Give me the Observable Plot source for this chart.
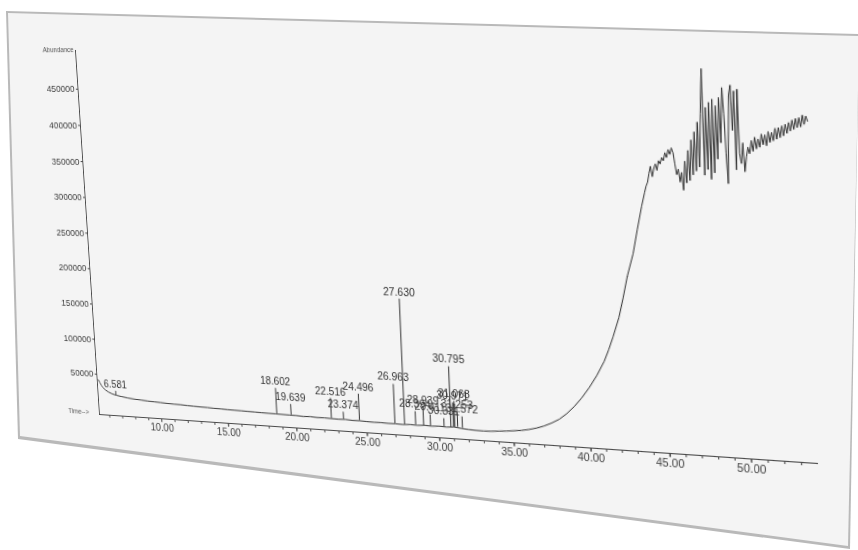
<!DOCTYPE html>
<html><head><meta charset="utf-8">
<script src="https://cdn.jsdelivr.net/npm/d3@7"></script>
<script src="https://cdn.jsdelivr.net/npm/@observablehq/plot@0.6"></script>
<style>
html,body{margin:0;padding:0;background:#ffffff;overflow:hidden;}
#wrap{position:relative;width:858px;height:550px;overflow:hidden;}
.paper{position:absolute;left:0;top:0;width:858px;height:550px;}
#edge{background:#b9b9b9;clip-path:polygon(6px 11px, 858px 34px, 858px 90px, 850px 549px, 18px 439px);}
#sheet{background:#f4f4f4;clip-path:polygon(8px 13px, 858px 36px, 858px 90px, 848px 546px, 20px 436px);}
#chart{position:absolute;left:0;top:0;}
</style></head><body><div id="wrap"><div class="paper" id="edge"></div><div class="paper" id="sheet"></div><div id="chart"></div></div>
<script>
// Axis settings
const xDomain = [5.2, 54.0];
const yDomain = [-8000, 503000];
const xTicks = [10, 15, 20, 25, 30, 35, 40, 45, 50];
const xMinorTicks = d3.range(6, 54, 1);
const yTicks = [50000, 100000, 150000, 200000, 250000, 300000, 350000, 400000, 450000];

// Total ion chromatogram trace [time (min), abundance]
const trace = [
  [5.3,42000],[5.4,38000],[5.5,34500],[5.6,31500],[5.8,28000],[6.0,25500],[6.3,23000],[6.6,21500],[7.0,20000],
  [7.5,18500],[8.0,17500],[8.5,16800],[9.0,16000],[9.5,15500],[10.0,15000],[10.5,14400],[11.0,14000],
  [11.5,13800],[12.0,13200],[12.5,12900],[13.0,12500],[13.5,12300],[14.0,11800],[14.5,11600],[15.0,11200],
  [15.5,11000],[16.0,10800],[16.5,10500],[17.0,10300],[17.5,10000],[18.0,9800],[18.5,9700],[19.0,9500],
  [19.5,9300],[20.0,9200],[20.5,8600],[21.0,9000],[21.5,8400],[22.0,8600],[22.5,8200],[23.0,8000],
  [23.5,8300],[24.0,7600],[24.5,7800],[25.0,7300],[25.5,7000],[26.0,7200],[26.5,6800],[27.0,6900],
  [27.5,6600],[28.0,7200],[28.5,6800],[29.0,7400],[29.5,6900],[30.0,7600],[30.5,7000],[31.0,7800],
  [31.5,6500],[32.0,5600],[32.5,5200],[33.0,5000],[33.5,5400],[34.0,6200],[34.5,7000],[35.0,8000],
  [35.5,9200],[36.0,11000],[36.5,13500],[37.0,17000],[37.5,21500],[38.0,27000],[38.5,35000],[39.0,45000],
  [39.5,57000],[40.0,71000],[40.5,87000],[41.0,106000],[41.3,121000],[41.6,138000],[42.0,163000],[42.3,188000],
  [42.6,216000],[43.0,245000],[43.3,276000],[43.6,305000],[43.8,322000],[43.9,330000],
  [44.0,335000],[44.1,346000],[44.2,355000],[44.3,342000],[44.4,352000],[44.5,358000],[44.6,350000],[44.7,362000],
  [44.8,358000],[44.9,366000],[45.0,362000],[45.1,372000],[45.2,366000],[45.3,376000],[45.4,370000],[45.5,378000],
  [45.6,372000],[45.7,358000],[45.8,345000],[45.9,352000],[46.0,336000],[46.1,348000],[46.2,326000],[46.3,362000],
  [46.4,335000],[46.5,375000],[46.6,338000],[46.7,388000],[46.8,345000],[46.9,398000],[47.0,350000],[47.1,410000],
  [47.2,355000],[47.3,420000],[47.4,475000],[47.5,345000],[47.6,428000],[47.7,352000],[47.8,434000],[47.9,340000],
  [48.0,438000],[48.1,348000],[48.2,430000],[48.3,365000],[48.4,440000],[48.5,385000],[48.6,452000],[48.7,420000],
  [48.8,372000],[48.9,335000],[49.0,442000],[49.1,455000],[49.2,400000],[49.3,448000],[49.4,352000],[49.5,450000],
  [49.6,372000],[49.7,360000],[49.8,385000],[49.9,350000],[50.0,368000],[50.1,380000],[50.2,372000],[50.3,388000],
  [50.4,375000],[50.5,392000],[50.6,378000],[50.7,390000],[50.8,380000],[50.9,396000],[51.0,383000],[51.1,395000],
  [51.2,382000],[51.3,399000],[51.4,386000],[51.5,398000],[51.6,388000],[51.7,403000],[51.8,390000],[51.9,404000],
  [52.0,392000],[52.1,406000],[52.2,394000],[52.3,408000],[52.4,397000],[52.5,410000],[52.6,400000],[52.7,413000],
  [52.8,402000],[52.9,415000],[53.0,404000],[53.1,416000],[53.2,405000],[53.3,419000],[53.4,408000],[53.5,418000],
  [53.6,412000]
];

// Labelled peaks
const peakTimes   = [6.581, 18.602, 19.639, 22.516, 23.374, 24.496, 26.963, 27.630, 28.394, 28.939, 29.411, 30.331, 30.795, 30.971, 31.068, 31.253, 31.572];
const peakHeights = [27000, 45000, 24000, 36000, 18000, 44000, 60000, 175000, 25000, 31000, 22000, 18000, 88000, 40000, 42000, 28000, 22000];
const peakBases   = [21500, 9700, 9300, 8200, 8300, 7800, 6900, 6600, 7200, 7000, 6900, 7000, 7200, 7400, 7600, 7800, 6600];

const peaks = peakTimes.map((t, i) => ({t, h: peakHeights[i], base: peakBases[i], label: t.toFixed(3)}));
const ink = "#303030";
const axisInk = "#4a4a4a";

const M = {left: 97, top: 50, right: 38, bottom: 136};
const W = 858, H = 550;

const chart = Plot.plot({
  width: W, height: H,
  marginLeft: M.left, marginRight: M.right, marginTop: M.top, marginBottom: M.bottom,
  style: {background: "transparent", fontFamily: "'Liberation Sans', Arial, sans-serif", color: "#404040", overflow: "visible"},
  x: {domain: xDomain, axis: null},
  y: {domain: yDomain, axis: null},
  marks: [
    Plot.axisY({ticks: yTicks, tickFormat: d => String(d), tickSize: 2, tickPadding: 2, fontSize: 9.5, label: null, stroke: axisInk}),
    Plot.axisX({ticks: xMinorTicks, tickSize: 3, tickFormat: () => "", label: null, stroke: axisInk}),
    Plot.axisX({ticks: xTicks, tickSize: 4, tickPadding: 1, tickFormat: d => d.toFixed(2), fontSize: 10.5, label: null, stroke: axisInk}),
    Plot.ruleX([xDomain[0]], {stroke: axisInk}),
    Plot.ruleY([yDomain[0]], {stroke: axisInk}),
    Plot.line(trace, {x: d => d[0], y: d => d[1], stroke: ink, strokeWidth: 0.95}),
    Plot.ruleX(peaks, {x: "t", y1: "base", y2: "h", stroke: ink, strokeWidth: 1}),
    Plot.text(peaks, {x: "t", y: "h", text: "label", dy: -7, fontSize: 10.5, fill: "#333"}),
    Plot.text(["Abundance"], {frameAnchor: "top-left", textAnchor: "end", dx: -2, dy: -3, fontSize: 7, fill: "#555"}),
    Plot.text(["Time-->"], {frameAnchor: "bottom-left", textAnchor: "end", dx: -12, dy: 0, fontSize: 7, fill: "#555"})
  ]
});
document.getElementById("chart").append(chart);

// Photographed-page look: map the plot frame onto the tilted quad seen in the reference
function quadMatrix(L, T, FW, FH, q) {
  const [[x0,y0],[x1,y1],[x2,y2],[x3,y3]] = q; // TL, TR, BR, BL
  const dx1 = x1 - x2, dx2 = x3 - x2, dx3 = x0 - x1 + x2 - x3;
  const dy1 = y1 - y2, dy2 = y3 - y2, dy3 = y0 - y1 + y2 - y3;
  const den = dx1 * dy2 - dx2 * dy1;
  const g = (dx3 * dy2 - dx2 * dy3) / den;
  const h = (dx1 * dy3 - dx3 * dy1) / den;
  const a = x1 - x0 + g * x1, b = x3 - x0 + h * x3, c = x0;
  const d = y1 - y0 + g * y1, e = y3 - y0 + h * y3, f = y0;
  const A = a / FW, B = b / FH, C = c - a * L / FW - b * T / FH;
  const D = d / FW, E = e / FH, F = f - d * L / FW - e * T / FH;
  const G = g / FW, Hh = h / FH, I = 1 - g * L / FW - h * T / FH;
  return `matrix3d(${A},${D},0,${G},${B},${E},0,${Hh},0,0,1,0,${C},${F},0,${I})`;
}
const FW = W - M.left - M.right, FH = H - M.top - M.bottom;
chart.style.transformOrigin = "0 0";
chart.style.transform = quadMatrix(M.left, M.top, FW, FH, [[75, 50], [813, 44], [818, 463], [99, 414]]);
</script>
</body></html>
